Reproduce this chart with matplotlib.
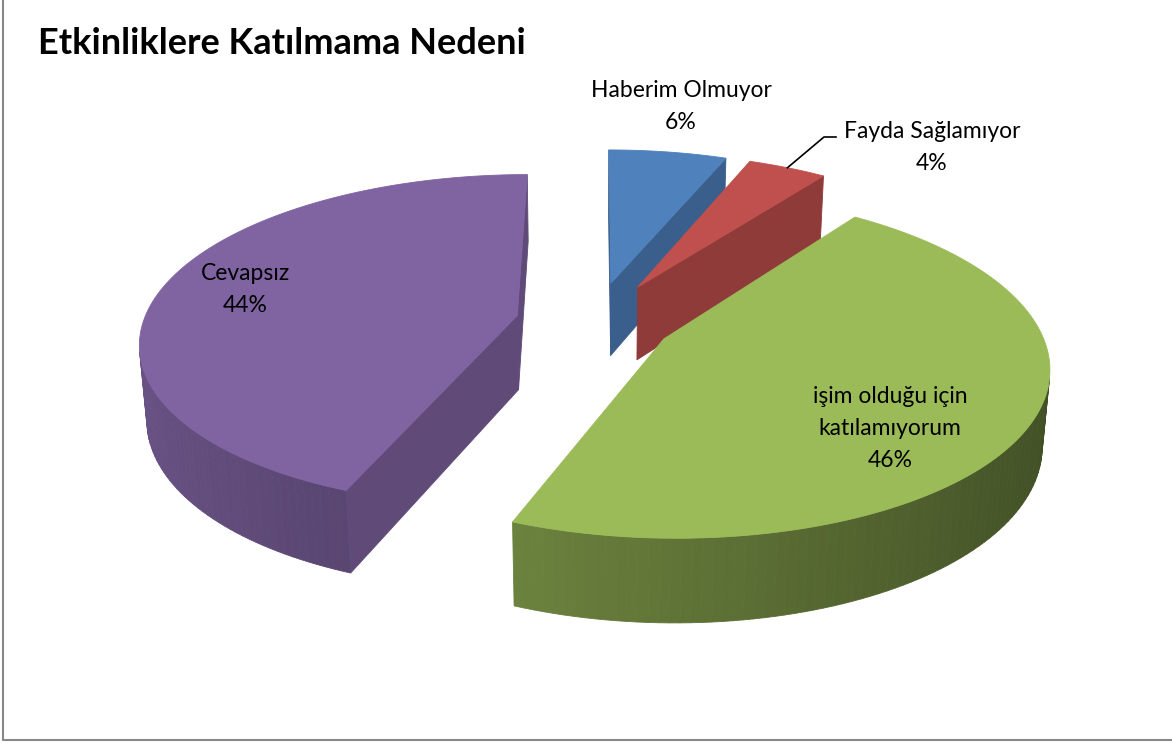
import numpy as np
import matplotlib.pyplot as plt
from matplotlib.patches import Polygon
from matplotlib.colors import to_rgb

plt.rcParams['font.family'] = ['Lato', 'DejaVu Sans']

# data
title = 'Etkinliklere Katılmama Nedeni'
labels = ['Haberim Olmuyor', 'Fayda Sağlamıyor', 'işim olduğu için\nkatılamıyorum', 'Cevapsız']
shares = [6, 4, 46, 44]
colors = ['#4F81BD', '#C0504D', '#9BBB59', '#8064A2']
explode = [0.25, 0.25, 0.21, 0.21]

# label anchors (centre x, first baseline y) in pixels
label_pos = [(681, 97), (932, 138), (890, 403), (245, 280)]
line_gap = 32

W, H = 1172, 743
fig = plt.figure(figsize=(W / 100, H / 100), dpi=100)
ax = fig.add_axes([0, 0, 1, 1])
ax.set_xlim(0, W)
ax.set_ylim(H, 0)
ax.axis('off')

# simple perspective camera for the 3d pie
X0, Y0 = 594, 322
S = 374
alpha = np.radians(26)
k = 0.15
depth = 0.225
cam_dist = np.cos(alpha) / k
cam = np.array([0, -cam_dist * np.cos(alpha), cam_dist * np.sin(alpha)])


def project(u, v, h):
    u, v, h = np.broadcast_arrays(np.asarray(u, float), np.asarray(v, float), np.asarray(h, float))
    w = 1 + k * v - k * np.tan(alpha) * h
    x = X0 + S * u / w
    y = Y0 - S * (v * np.sin(alpha) + h * np.cos(alpha)) / w
    return np.column_stack([x, y])


def shade(c, f):
    return tuple(np.clip(np.array(to_rgb(c)) * f, 0, 1))


def facing(p, n):
    return np.dot(cam - p, n) > 0


fracs = np.array(shares) / sum(shares)
starts = 90 - np.concatenate([[0], np.cumsum(fracs)[:-1]]) * 360
ends = starts - fracs * 360
mids = np.radians((starts + ends) / 2)
cu = np.array(explode) * np.cos(mids)
cv = np.array(explode) * np.sin(mids)

order = np.argsort(-cv)
for i in order:
    t1, t2 = np.radians(starts[i]), np.radians(ends[i])
    t = np.linspace(t1, t2, 120)
    col = colors[i]
    faces = []
    # outer wall strips
    for a, b in zip(t[:-1], t[1:]):
        m = (a + b) / 2
        n = np.array([np.cos(m), np.sin(m), 0])
        p = np.array([cu[i] + np.cos(m), cv[i] + np.sin(m), -depth / 2])
        if facing(p, n):
            uu = cu[i] + np.cos([a, b, b, a])
            vv = cv[i] + np.sin([a, b, b, a])
            hh = [0, 0, -depth, -depth]
            f = 0.62 + 0.2 * np.cos(m - np.pi)
            faces.append((project(uu, vv, hh), shade(col, f)))
    # cut faces along both radii
    for ang, nang in [(t1, t1 + np.pi / 2), (t2, t2 - np.pi / 2)]:
        n = np.array([np.cos(nang), np.sin(nang), 0])
        p = np.array([cu[i] + 0.5 * np.cos(ang), cv[i] + 0.5 * np.sin(ang), -depth / 2])
        if facing(p, n):
            uu = cu[i] + np.array([0, np.cos(ang), np.cos(ang), 0])
            vv = cv[i] + np.array([0, np.sin(ang), np.sin(ang), 0])
            hh = [0, 0, -depth, -depth]
            faces.append((project(uu, vv, hh), shade(col, 0.74)))
    for pts, c in faces:
        ax.add_patch(Polygon(pts, closed=True, facecolor=c, edgecolor=c, lw=0.6))
    top = project(np.concatenate([[cu[i]], cu[i] + np.cos(t)]),
                  np.concatenate([[cv[i]], cv[i] + np.sin(t)]), 0)
    ax.add_patch(Polygon(top, closed=True, facecolor=col, edgecolor=col, lw=0.6))

# data labels
for i, lab in enumerate(labels):
    lines = lab.split('\n') + ['%d%%' % shares[i]]
    x, y = label_pos[i]
    for j, ln in enumerate(lines):
        ax.text(x, y + j * line_gap, ln, ha='center', va='baseline', fontsize=16.5, color='black')

# leader line for the small red slice
m = mids[1]
tip = project(cu[1] + np.cos(m), cv[1] + np.sin(m), 0)[0]
ax.plot([tip[0], 824, 836], [tip[1], 137, 137], color='black', lw=1.2)

ax.text(38, 54, title, fontsize=26, fontweight='bold', ha='left', va='baseline')

# chart border (left and bottom edges visible)
ax.plot([2.5, 2.5, W], [0, 739.5, 739.5], color='#888888', lw=1.5)

fig.savefig('out.png', dpi=100)
